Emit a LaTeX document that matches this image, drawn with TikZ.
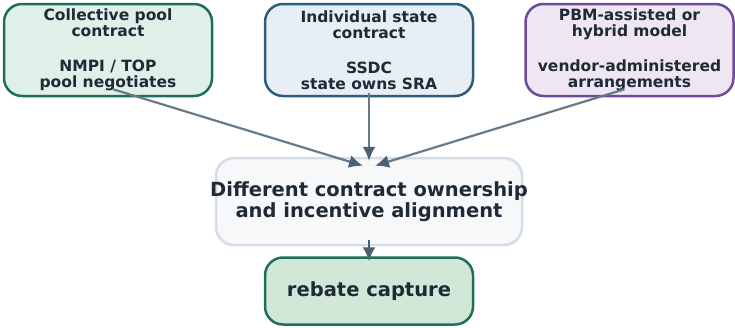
\documentclass[tikz,border=0pt]{standalone}
\usepackage{fontspec}
\setmainfont{DejaVu Sans}
\usetikzlibrary{arrows.meta}
\usepackage{xcolor}

\definecolor{ink}{HTML}{1F2A36}
\definecolor{poolfill}{HTML}{DFF0E9}
\definecolor{pooldraw}{HTML}{1E6E58}
\definecolor{statefill}{HTML}{E7EEF6}
\definecolor{statedraw}{HTML}{2D5D7C}
\definecolor{pbmfill}{HTML}{EFE6F4}
\definecolor{pbmdraw}{HTML}{6D4B9A}
\definecolor{difffill}{HTML}{F6F8FA}
\definecolor{diffdraw}{HTML}{D5DDE8}
\definecolor{rebatefill}{HTML}{D1E8D8}
\definecolor{flow}{HTML}{687A88}
\definecolor{flowhead}{HTML}{4B6072}

\begin{document}
\begin{tikzpicture}[%
        x=1pt, y=-1pt,
        every node/.style={rectangle, rounded corners=18pt, line width=2.5pt, align=center, text=ink, inner sep=0pt},
        topbox/.style={draw, minimum width=208pt, minimum height=92pt, font=\fontsize{15.5}{16.5}\selectfont\bfseries},
        midbox/.style={draw, inner xsep=-7pt, minimum width=306pt, minimum height=87pt, font=\fontsize{19.5}{21.5}\selectfont\bfseries},
        endbox/.style={draw, minimum width=208pt, minimum height=67pt, font=\fontsize{19.5}{21.5}\selectfont\bfseries},
        link/.style={draw=flow, line width=2.2pt},
        >={Latex[length=14pt,width=13pt,color=flowhead]}
      ]
      \useasboundingbox (0,0) rectangle (735,327);
      % the three contracting models
      \node (0) [topbox, fill=poolfill, draw=pooldraw] at (108,50)
        {Collective pool\\contract\\[18pt]NMPI / TOP\\pool negotiates};
      \node (1) [topbox, fill=statefill, draw=statedraw] at (369,50)
        {Individual state\\contract\\[18pt]SSDC\\state owns SRA};
      \node (2) [topbox, fill=pbmfill, draw=pbmdraw] at (629.5,50)
        {PBM-assisted or\\hybrid model\\[18pt]vendor-administered\\arrangements};
      % where they lead
      \node (3) [midbox, fill=difffill, draw=diffdraw] at (369,201.5)
        {Different contract ownership\\and incentive alignment};
      \node (4) [endbox, fill=rebatefill, draw=pooldraw] at (369,291)
        {rebate capture};
      \path [link] ([xshift=5pt,yshift=8pt]0.south) edge[->] ([xshift=-6pt,yshift=-9pt]3.north)
      ([yshift=4pt]1.south) edge[->] ([yshift=-4pt]3.north)
      ([xshift=-5pt,yshift=8pt]2.south) edge[->] ([xshift=6pt,yshift=-9pt]3.north);
      \path [link] ([yshift=6pt]3.south) edge[->, draw=flowhead] ([yshift=-5pt]4.north);
    \end{tikzpicture}
\end{document}
